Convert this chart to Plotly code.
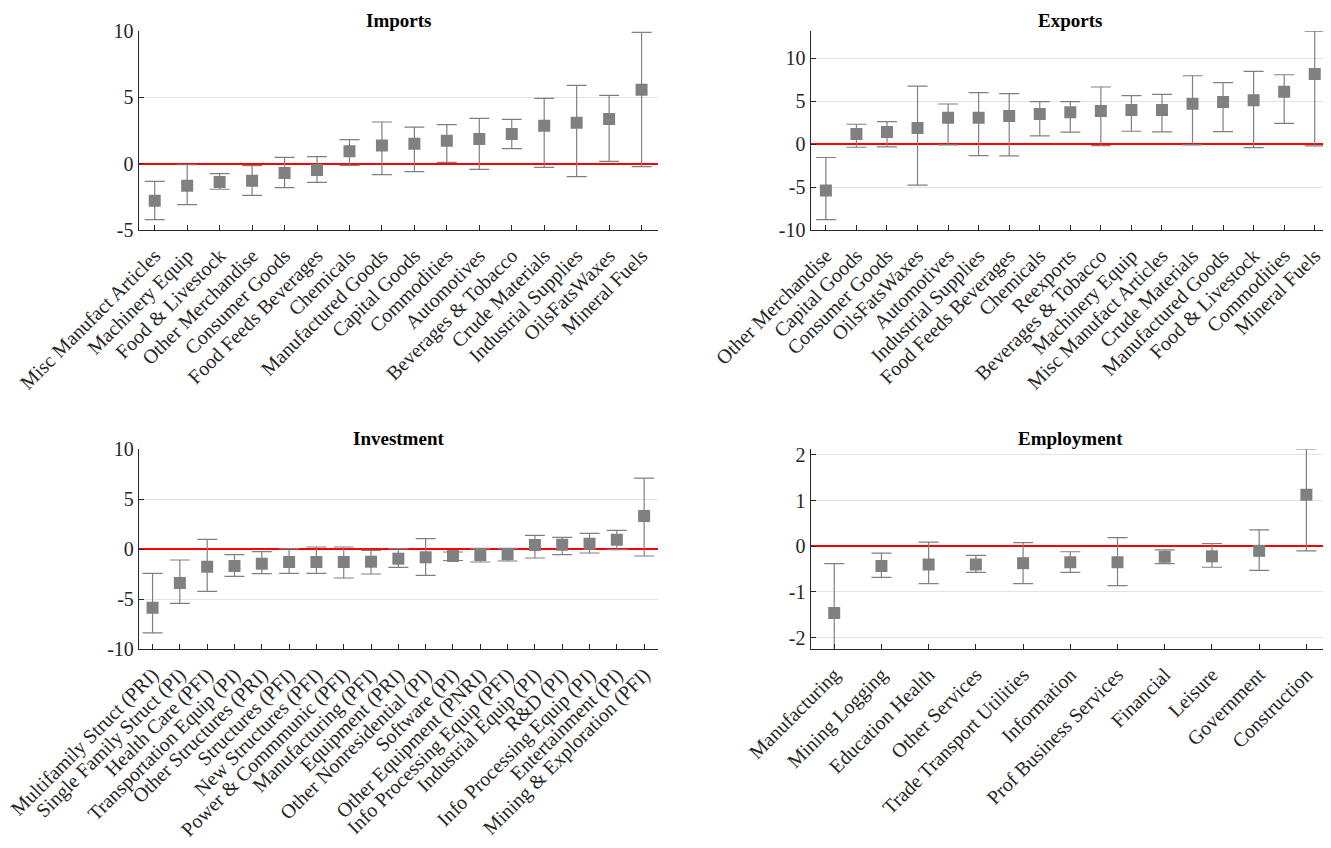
import plotly.graph_objects as go

# ---------------- data ----------------
imports_cats = ["Misc Manufact Articles", "Machinery Equip", "Food & Livestock", "Other Merchandise",
                "Consumer Goods", "Food Feeds Beverages", "Chemicals", "Manufactured Goods",
                "Capital Goods", "Commodities", "Automotives", "Beverages & Tobacco",
                "Crude Materials", "Industrial Supplies", "OilsFatsWaxes", "Mineral Fuels"]
imports_val = [-2.79, -1.66, -1.38, -1.28, -0.70, -0.48, 0.93, 1.36, 1.51, 1.73, 1.86, 2.24, 2.86, 3.09, 3.37, 5.58]
imports_hi = [-1.33, -0.08, -0.75, -0.15, 0.48, 0.53, 1.81, 3.14, 2.76, 2.94, 3.42, 3.34, 4.92, 5.90, 5.15, 9.90]
imports_lo = [-4.22, -3.09, -1.93, -2.39, -1.81, -1.41, -0.13, -0.83, -0.60, 0.10, -0.43, 1.13, -0.28, -0.98, 0.18, -0.23]

exports_cats = ["Other Merchandise", "Capital Goods", "Consumer Goods", "OilsFatsWaxes", "Automotives",
                "Industrial Supplies", "Food Feeds Beverages", "Chemicals", "Reexports",
                "Beverages & Tobacco", "Machinery Equip", "Misc Manufact Articles", "Crude Materials",
                "Manufactured Goods", "Food & Livestock", "Commodities", "Mineral Fuels"]
exports_val = [-5.39, 1.20, 1.43, 1.90, 3.10, 3.10, 3.29, 3.53, 3.72, 3.88, 3.99, 3.99, 4.73, 4.92, 5.12, 6.12, 8.18]
exports_hi = [-1.55, 2.33, 2.64, 6.78, 4.69, 6.01, 5.89, 4.96, 4.96, 6.67, 5.66, 5.81, 7.98, 7.17, 8.49, 8.10, 13.18]
exports_lo = [-8.80, -0.35, -0.31, -4.77, -0.08, -1.32, -1.36, 0.97, 1.40, -0.16, 1.51, 1.43, -0.08, 1.47, -0.39, 2.44, -0.19]

invest_cats = ["Multifamily Struct (PRI)", "Single Family Struct (PI)", "Health Care (PFI)",
               "Transportation Equip (PI)", "Other Structures (PRI)", "Structures (PFI)",
               "New Structures (PFI)", "Power & Commmunic (PFI)", "Manufacturing (PFI)",
               "Equipment (PRI)", "Other Nonresidential (PI)", "Software (PI)",
               "Other Equipment (PNRI)", "Info Processing Equip (PFI)", "Industrial Equip (PI)",
               "R&D (PI)", "Info Processing Equip (PI)", "Entertainment (PI)",
               "Mining & Exploration (PFI)"]
invest_val = [-5.88, -3.41, -1.77, -1.70, -1.47, -1.30, -1.30, -1.30, -1.27, -0.97, -0.83, -0.70, -0.60, -0.53, 0.40, 0.43, 0.53, 0.93, 3.31]
invest_hi = [-2.44, -1.10, 0.97, -0.57, -0.27, 0.03, 0.20, 0.20, -0.13, 0.03, 1.04, -0.30, 0.07, 0.07, 1.37, 1.17, 1.57, 1.87, 7.08]
invest_lo = [-8.38, -5.44, -4.24, -2.74, -2.47, -2.44, -2.44, -2.90, -2.50, -1.84, -2.64, -1.15, -1.30, -1.20, -0.90, -0.57, -0.40, -0.07, -0.70]

employ_cats = ["Manufacturing", "Mining Logging", "Education Health", "Other Services",
               "Trade Transport Utilities", "Information", "Prof Business Services", "Financial",
               "Leisure", "Government", "Construction"]
employ_val = [-1.46, -0.43, -0.40, -0.40, -0.37, -0.35, -0.35, -0.23, -0.22, -0.10, 1.13]
employ_hi = [-0.38, -0.15, 0.09, -0.20, 0.08, -0.12, 0.19, -0.08, 0.06, 0.36, 2.13]
employ_lo = [-2.55, -0.68, -0.82, -0.57, -0.82, -0.57, -0.86, -0.38, -0.46, -0.53, -0.10]

titles = ["Imports", "Exports", "Investment", "Employment"]

imports_ticks = [-5, 0, 5, 10]
exports_ticks = [-10, -5, 0, 5, 10]
invest_ticks = [-10, -5, 0, 5, 10]
employ_ticks = [-2, -1, 0, 1, 2]

# ---------------- styling / layout ----------------
W, H = 1331, 848
OFF = 8  # default page margin of the html body
FONT = "Liberation Serif"
GREY = "#808080"
AX = "#262626"

panels = [
    dict(cats=imports_cats, val=imports_val, hi=imports_hi, lo=imports_lo, ticks=imports_ticks,
         yr=[-5, 10], px=(138.5, 657.8), py=(31, 230), title=titles[0]),
    dict(cats=exports_cats, val=exports_val, hi=exports_hi, lo=exports_lo, ticks=exports_ticks,
         yr=[-10, 13.2], px=(810.6, 1330), py=(31, 230), title=titles[1]),
    dict(cats=invest_cats, val=invest_val, hi=invest_hi, lo=invest_lo, ticks=invest_ticks,
         yr=[-10, 10], px=(138.9, 657.8), py=(449, 649), title=titles[2]),
    dict(cats=employ_cats, val=employ_val, hi=employ_hi, lo=employ_lo, ticks=employ_ticks,
         yr=[-2.25, 2.13], px=(810.6, 1330), py=(449, 649), title=titles[3]),
]

fig = go.Figure()
layout = dict(
    template="none",
    width=W, height=H, margin=dict(l=0, r=0, t=0, b=0, autoexpand=False),
    paper_bgcolor="white", plot_bgcolor="white", showlegend=False,
    font=dict(family=FONT, color=AX, size=20),
    annotations=[],
)

for i, p in enumerate(panels, start=1):
    xa = "x" if i == 1 else f"x{i}"
    ya = "y" if i == 1 else f"y{i}"
    plus = [h - v for h, v in zip(p["hi"], p["val"])]
    minus = [v - l for v, l in zip(p["val"], p["lo"])]
    fig.add_trace(go.Scatter(
        x=p["cats"], y=p["val"], mode="markers", xaxis=xa, yaxis=ya,
        marker=dict(symbol="square", size=12, color=GREY, line=dict(width=0)),
        error_y=dict(type="data", symmetric=False, array=plus, arrayminus=minus,
                     color=GREY, thickness=1.2, width=10),
    ))
    x0, x1 = p["px"][0] - OFF, p["px"][1] - OFF
    y0, y1 = p["py"][0] - OFF, p["py"][1] - OFF
    dx = [x0 / W, x1 / W]
    dy = [1 - y1 / H, 1 - y0 / H]
    n = len(p["cats"])
    layout[f"xaxis{'' if i == 1 else i}"] = dict(
        domain=dx, anchor=ya, type="category", range=[-0.5, n - 0.5], automargin=False,
        showline=True, linecolor=AX, linewidth=1.2, ticks="inside", ticklen=5,
        tickcolor=AX, tickangle=-45, showgrid=False, zeroline=False,
        ticklabelstandoff=5,
        tickfont=dict(family=FONT, size=20, color=AX),
    )
    layout[f"yaxis{'' if i == 1 else i}"] = dict(
        domain=dy, anchor=xa, range=p["yr"], tickvals=p["ticks"], automargin=False,
        ticktext=[str(t) for t in p["ticks"]],
        showline=True, linecolor=AX, linewidth=1.2, ticks="inside", ticklen=5,
        tickcolor=AX, showgrid=True, gridcolor="#e3e3e3", gridwidth=1,
        zeroline=True, zerolinecolor="#ff0000", zerolinewidth=1.5,
        tickfont=dict(family=FONT, size=20, color=AX),
    )
    layout["annotations"].append(dict(
        text=f"<b>{p['title']}</b>", xref="paper", yref="paper",
        x=(dx[0] + dx[1]) / 2, y=1 - (y0 + 0.5) / H, xanchor="center", yanchor="bottom",
        borderpad=0, showarrow=False, font=dict(family=FONT, size=19, color="black"),
    ))

fig.update_layout(**layout)
fig.write_html("out.html")
